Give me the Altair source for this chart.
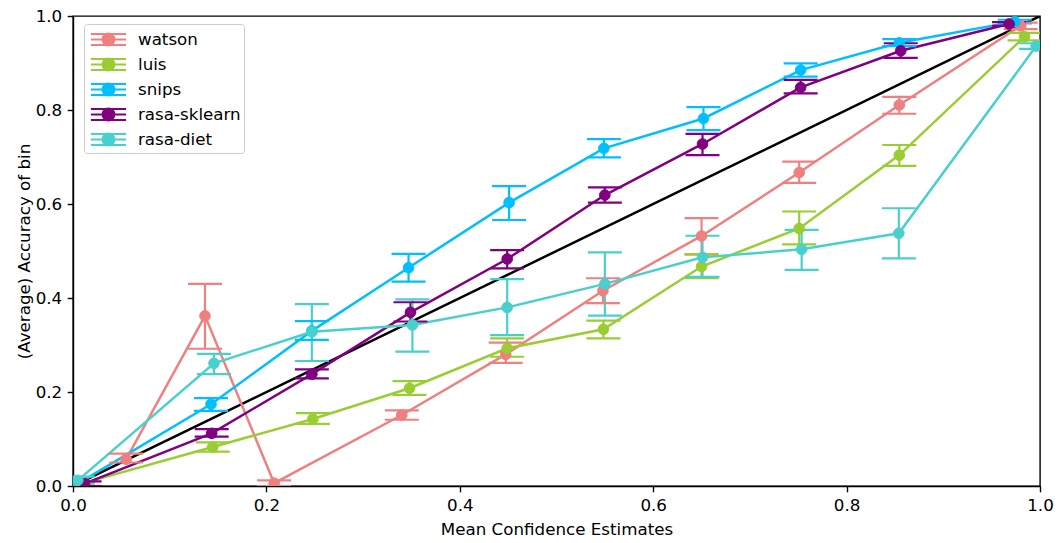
import altair as alt
import pandas as pd

# Models, in legend order, and their colours
models = ["watson", "luis", "snips", "rasa-sklearn", "rasa-diet"]
colors = ["#F08080", "#9ACD32", "#00BFFF", "#800080", "#48D1CC"]

# Mean confidence per bin (x), accuracy per bin (y) and error bar ends
watson_conf = [0.055, 0.1365, 0.208, 0.340, 0.4475, 0.548, 0.650, 0.751, 0.8545, 0.980]
watson_acc = [0.057, 0.362, 0.006, 0.151, 0.280, 0.4155, 0.532, 0.667, 0.8106, 0.979]
watson_lo = [0.050, 0.292, 0.000, 0.141, 0.262, 0.389, 0.493, 0.645, 0.792, 0.972]
watson_hi = [0.069, 0.430, 0.012, 0.161, 0.305, 0.442, 0.570, 0.690, 0.828, 0.986]

luis_conf = [0.005, 0.1445, 0.248, 0.348, 0.449, 0.5485, 0.650, 0.751, 0.8545, 0.984]
luis_acc = [0.003, 0.083, 0.1426, 0.208, 0.293, 0.3334, 0.467, 0.548, 0.704, 0.956]
luis_lo = [0.000, 0.073, 0.132, 0.194, 0.275, 0.314, 0.442, 0.514, 0.681, 0.948]
luis_hi = [0.006, 0.093, 0.155, 0.223, 0.314, 0.352, 0.493, 0.584, 0.7255, 0.964]

snips_conf = [0.005, 0.1427, 0.247, 0.347, 0.451, 0.549, 0.652, 0.7525, 0.8545, 0.974]
snips_acc = [0.005, 0.174, 0.330, 0.4645, 0.603, 0.7185, 0.782, 0.885, 0.943, 0.988]
snips_lo = [0.000, 0.160, 0.311, 0.435, 0.566, 0.699, 0.757, 0.871, 0.936, 0.984]
snips_hi = [0.010, 0.187, 0.351, 0.494, 0.638, 0.738, 0.806, 0.899, 0.951, 0.992]

sklearn_conf = [0.012, 0.1434, 0.247, 0.349, 0.449, 0.550, 0.651, 0.7525, 0.856, 0.968]
sklearn_acc = [0.005, 0.112, 0.238, 0.3695, 0.483, 0.619, 0.7277, 0.848, 0.926, 0.983]
sklearn_lo = [0.000, 0.105, 0.229, 0.350, 0.463, 0.603, 0.704, 0.8355, 0.911, 0.979]
sklearn_hi = [0.010, 0.121, 0.248, 0.391, 0.502, 0.6355, 0.749, 0.864, 0.942, 0.987]

diet_conf = [0.005, 0.1458, 0.247, 0.351, 0.449, 0.550, 0.651, 0.7535, 0.854, 0.996]
diet_acc = [0.012, 0.261, 0.328, 0.3426, 0.380, 0.430, 0.4865, 0.5035, 0.5376, 0.936]
diet_lo = [0.005, 0.238, 0.266, 0.286, 0.321, 0.3625, 0.445, 0.460, 0.4845, 0.930]
diet_hi = [0.020, 0.281, 0.387, 0.397, 0.440, 0.497, 0.5325, 0.545, 0.591, 0.942]

series = [
    ("watson", watson_conf, watson_acc, watson_lo, watson_hi),
    ("luis", luis_conf, luis_acc, luis_lo, luis_hi),
    ("snips", snips_conf, snips_acc, snips_lo, snips_hi),
    ("rasa-sklearn", sklearn_conf, sklearn_acc, sklearn_lo, sklearn_hi),
    ("rasa-diet", diet_conf, diet_acc, diet_lo, diet_hi),
]

rows = []
for name, conf, acc, lo, hi in series:
    for c, a, l, h in zip(conf, acc, lo, hi):
        rows.append({"model": name, "conf": c, "acc": a, "lo": l, "hi": h})
df = pd.DataFrame(rows)

# Perfect calibration reference
diag = pd.DataFrame({"conf": [0.0, 1.0], "acc": [0.0, 1.0]})

FONT = "DejaVu Sans"
FS = 16.7
ticks = [0.0, 0.2, 0.4, 0.6, 0.8, 1.0]

x_scale = alt.Scale(domain=[0, 1], nice=False, zero=False, padding=0)
y_scale = alt.Scale(domain=[0, 1], nice=False, zero=False, padding=0)
x_enc = alt.X(
    "conf:Q",
    scale=x_scale,
    axis=alt.Axis(values=ticks, format=".1f", title="Mean Confidence Estimates", titlePadding=7),
)
y_axis = alt.Axis(values=ticks, format=".1f", title="(Average) Accuracy of bin", titlePadding=2)

# Legend glyph: line with error bar caps and a filled marker
GLYPH = (
    "M-1.6,0H1.6M-1.6,-0.5H1.6M-1.6,0.5H1.6M0,-0.5V0.5"
    "M0.53,0A0.53,0.53,0,1,1,-0.53,0A0.53,0.53,0,1,1,0.53,0Z"
)
legend = alt.Legend(
    title=None,
    orient="none",
    legendX=11,
    legendY=8,
    symbolType=GLYPH,
    symbolSize=484,
    symbolStrokeWidth=2.2,
    symbolOffset=9,
    labelOffset=17,
    labelFont=FONT,
    labelFontSize=FS,
    labelColor="black",
    padding=3,
    rowPadding=2,
    strokeColor="#cccccc",
    fillColor="white",
    cornerRadius=3,
)
stroke_enc = alt.Stroke("model:N", scale=alt.Scale(domain=models, range=colors), legend=legend)
fill_enc = alt.Fill("model:N", scale=alt.Scale(domain=models, range=colors), legend=legend)

base = alt.Chart(df)

diag_line = alt.Chart(diag).mark_line(color="black", strokeWidth=2.5, clip=True).encode(
    x=x_enc, y=alt.Y("acc:Q", scale=y_scale, axis=y_axis)
)

lines = base.mark_line(strokeWidth=2.5, clip=True).encode(
    x=x_enc, y=alt.Y("acc:Q", scale=y_scale), stroke=stroke_enc, order="conf:Q"
)

bars = base.mark_rule(strokeWidth=2.2, clip=True).encode(
    x=x_enc, y=alt.Y("lo:Q", scale=y_scale), y2="hi:Q", stroke=stroke_enc
)

caps_lo = base.mark_tick(orient="horizontal", size=34, thickness=2.2, opacity=1, clip=True).encode(
    x=x_enc, y=alt.Y("lo:Q", scale=y_scale), fill=fill_enc
)
caps_hi = base.mark_tick(orient="horizontal", size=34, thickness=2.2, opacity=1, clip=True).encode(
    x=x_enc, y=alt.Y("hi:Q", scale=y_scale), fill=fill_enc
)

points = base.mark_circle(size=113, opacity=1, strokeWidth=1, clip=True).encode(
    x=x_enc, y=alt.Y("acc:Q", scale=y_scale), fill=fill_enc, stroke=stroke_enc
)

chart = (
    alt.layer(diag_line, lines, bars, caps_lo, caps_hi, points)
    .properties(
        width=967,
        height=470,
        padding={"left": 73, "top": 16, "right": 18, "bottom": 57},
        autosize=alt.AutoSizeParams(type="none"),
        background="white",
    )
    .configure_view(stroke="black", strokeWidth=1.4)
    .configure_axis(
        grid=False,
        labelFont=FONT,
        labelFontSize=FS,
        labelColor="black",
        labelFlush=False,
        titleFont=FONT,
        titleFontSize=FS,
        titleFontWeight="normal",
        titleColor="black",
        domainColor="black",
        domainWidth=1.4,
        tickColor="black",
        tickWidth=1.4,
        tickSize=5.8,
        labelPadding=5.5,
    )
)

chart.save("out.html", embed_options={"renderer": "svg", "actions": False})
